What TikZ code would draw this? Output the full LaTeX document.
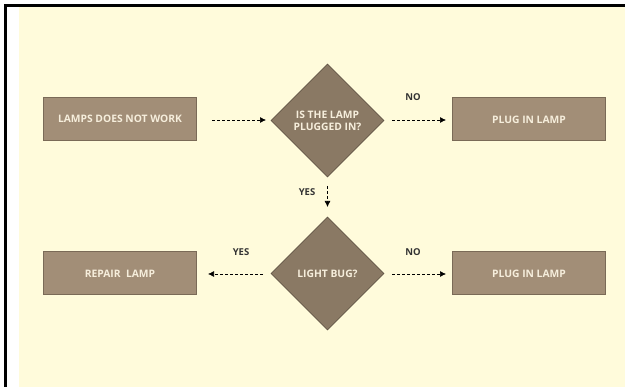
\documentclass[tikz,border=0pt]{standalone}
\usepackage{fontspec}
\setmainfont{Open Sans}
\usetikzlibrary{shapes.geometric,arrows.meta}
\definecolor{cream}{HTML}{FFFBDB}
\definecolor{boxfill}{HTML}{A28E77}
\definecolor{boxline}{HTML}{7A6A57}
\definecolor{diafill}{HTML}{8A7964}
\definecolor{diatext}{HTML}{F6EEDC}
\definecolor{lbl}{HTML}{333333}
\begin{document}
\begin{tikzpicture}[x=1pt,y=-1pt,
  stepbox/.style={draw=boxline,line width=1pt,fill=boxfill,minimum width=153pt,minimum height=43pt,inner sep=0pt,
    font=\fontsize{10.3}{12}\selectfont\bfseries,text=diatext},
  decision/.style={diamond,draw=boxline!80!black,line width=0.6pt,fill=diafill,minimum width=113pt,minimum height=113pt,inner sep=0pt,
    font=\fontsize{10.3}{12}\selectfont\bfseries,text=diatext,align=center},
  flow/.style={densely dashed,line width=0.7pt,-{Latex[length=6pt,width=6pt]}},
  lab/.style={font=\fontsize{9.5}{11}\selectfont\bfseries,text=lbl}]
\useasboundingbox (0,0) rectangle (625,387);
\fill[white] (0,0) rectangle (625,387);
\fill[cream] (19,7) rectangle (625,387);
\fill[black] (4,4) rectangle (625,7);
\fill[black] (4,4) rectangle (6.5,387);

\node[stepbox] (start) at (120,119) {LAMPS DOES NOT WORK};
\node[decision] (q1) at (327.5,120.5) {IS THE LAMP\\PLUGGED IN?};
\node[stepbox] (plug1) at (529,119.5) {PLUG IN LAMP};
\node[decision] (q2) at (327.5,273.5) {LIGHT BUG?};
\node[stepbox] (repair) at (120,273.5) {REPAIR\ \ LAMP};
\node[stepbox] (plug2) at (529,273.5) {PLUG IN LAMP};

\coordinate (a1s) at (212,120);
\coordinate (a1e) at (266,120);
\coordinate (a2s) at (392,120);
\coordinate (a2e) at (446,120);
\coordinate (a3s) at (327.5,186);
\coordinate (a3e) at (327.5,207);
\coordinate (a4s) at (263,274);
\coordinate (a4e) at (208,274);
\coordinate (a5s) at (392,274);
\coordinate (a5e) at (446,274);

\draw[flow] (a1s) -- (a1e);
\draw[flow] (a2s) -- (a2e);
\draw[flow] (a3s) -- (a3e);
\draw[flow] (a4s) -- (a4e);
\draw[flow] (a5s) -- (a5e);

\node[lab] (no1) at (413,97) {NO};
\node[lab] (yes1) at (307,192) {YES};
\node[lab] (yes2) at (241,252) {YES};
\node[lab] (no2) at (413,252) {NO};
\end{tikzpicture}
\end{document}
